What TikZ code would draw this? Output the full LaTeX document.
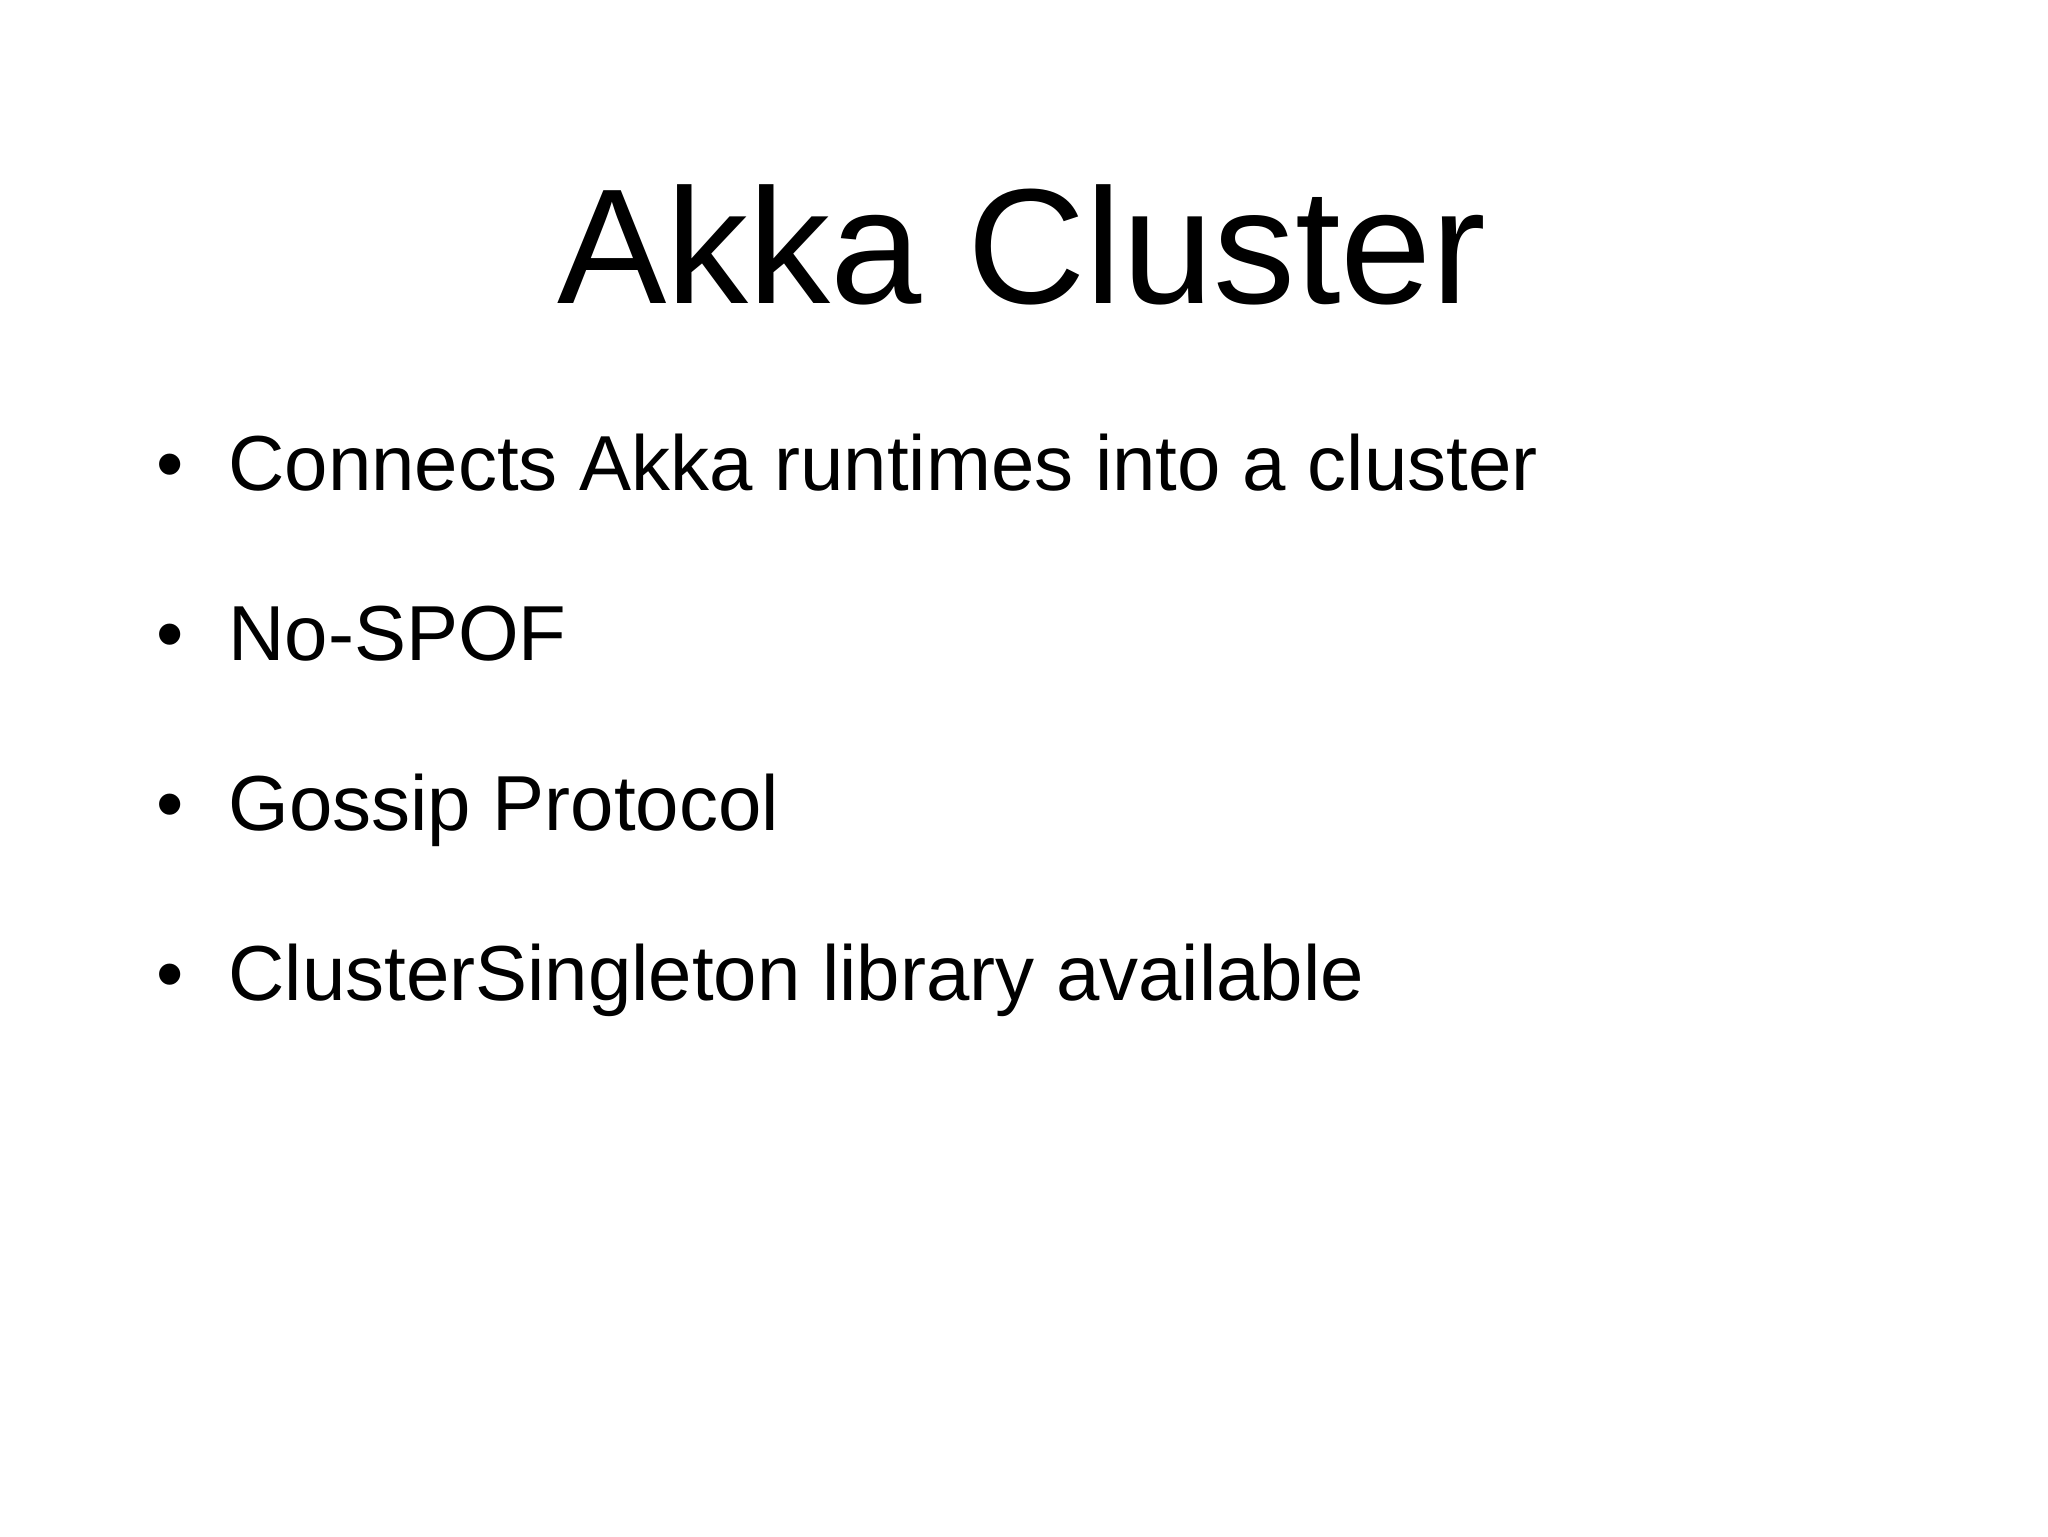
\documentclass[tikz,border=0pt]{standalone}
\usepackage{fontspec}
\setmainfont{Liberation Sans}
\begin{document}
\begin{tikzpicture}[x=1pt,y=1pt,
  item/.style={anchor=base west,inner sep=0pt,font=\fontsize{39}{44}\selectfont},
  dot/.style={anchor=base,inner sep=0pt,font=\fontsize{39}{44}\selectfont}]
\useasboundingbox (0,0) rectangle (1024,-768);
\node[anchor=base,inner sep=0pt,font=\fontsize{82}{90}\selectfont] (title) at (511,-151.5) {Akka Cluster};
\foreach \t [count=\i] in {Connects Akka runtimes into a cluster,No-SPOF,Gossip Protocol,ClusterSingleton library available}{
  \node[dot] (b\i) at (85,{-245-85*(\i-1)}) {\textbullet};
  \node[item] (t\i) at (114,{-245-85*(\i-1)}) {\t};
}
\end{tikzpicture}
\end{document}
